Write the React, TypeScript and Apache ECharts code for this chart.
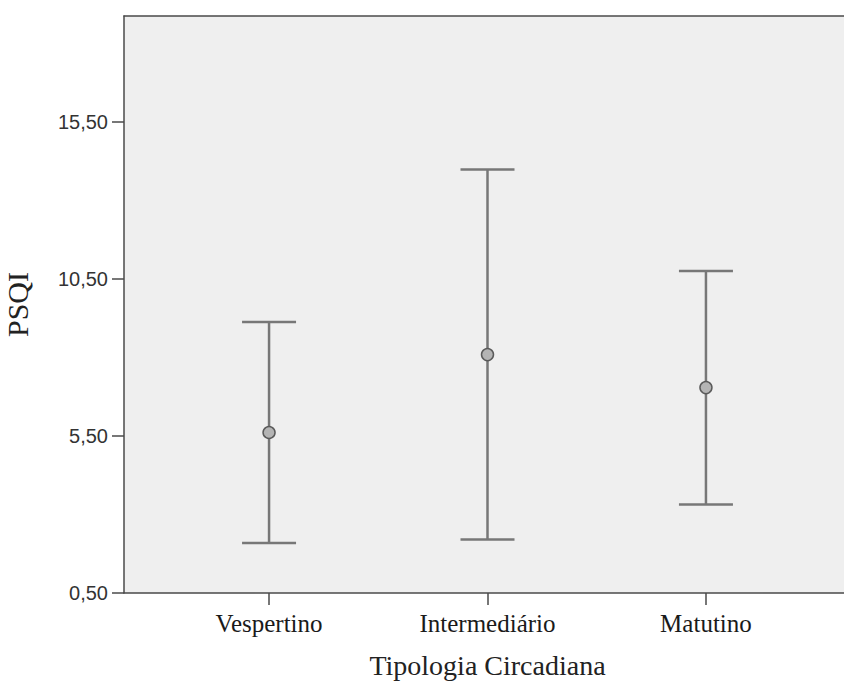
import React, { useEffect, useRef } from "react";
import * as echarts from "echarts";

const categories = ["Vespertino", "Intermediário", "Matutino"];
const means = [5.61, 8.09, 7.04];
const lowers = [2.09, 2.2, 3.32];
const uppers = [9.13, 13.98, 10.75];
const yTicks = [0.5, 5.5, 10.5, 15.5];
const catPositions = [1, 2, 3];

export default function App() {
  const ref = useRef<HTMLDivElement>(null);
  useEffect(() => {
    document.body.style.overflow = "hidden";
    if (!ref.current) return;
    const chart = echarts.init(ref.current, null, { renderer: "svg" });
    const data = categories.map((c, i) => [catPositions[i], lowers[i], uppers[i], means[i]]);
    const axisColor = "#4a4a4a";
    chart.setOption({
      animation: false,
      backgroundColor: "#ffffff",
      grid: {
        left: 124,
        right: 9,
        top: 16,
        bottom: 91,
        containLabel: false,
        outerBoundsMode: "none",
        show: true,
        backgroundColor: "#efefef",
        borderWidth: 0,
      },
      xAxis: [
        {
          type: "value",
          min: 0.336,
          max: 3.664,
          name: "Tipologia Circadiana",
          nameLocation: "middle",
          nameGap: 58,
          nameTextStyle: { fontFamily: "Liberation Serif", fontSize: 28, color: "#222" },
          axisLine: { show: true, lineStyle: { color: axisColor, width: 1.5 } },
          axisTick: { show: true, length: 12, customValues: catPositions, lineStyle: { color: axisColor, width: 1.5 } },
          axisLabel: {
            customValues: catPositions,
            margin: 18,
            fontFamily: "Liberation Serif",
            fontSize: 25,
            color: "#1a1a1a",
            formatter: (v: number) => categories[Math.round(v) - 1] ?? "",
          },
          splitLine: { show: false },
        },
        {
          type: "value",
          position: "top",
          min: 0.336,
          max: 3.664,
          axisLine: { show: true, onZero: false, lineStyle: { color: axisColor, width: 1.5 } },
          axisTick: { show: false },
          axisLabel: { show: false },
          splitLine: { show: false },
        },
      ],
      yAxis: {
        type: "value",
        min: 0.5,
        max: 18.87,
        name: "PSQI",
        nameLocation: "middle",
        nameGap: 92,
        nameRotate: 90,
        nameTextStyle: { fontFamily: "Liberation Serif", fontSize: 30, color: "#222" },
        axisLine: { show: true, lineStyle: { color: axisColor, width: 1.5 } },
        axisTick: { show: true, length: 12, customValues: yTicks, lineStyle: { color: axisColor, width: 1.5 } },
        axisLabel: {
          customValues: yTicks,
          margin: 16,
          fontFamily: "Liberation Sans",
          fontSize: 20,
          color: "#333",
          formatter: (v: number) => v.toFixed(2).replace(".", ","),
        },
        splitLine: { show: false },
      },
      series: [
        {
          type: "custom",
          xAxisIndex: 0,
          data,
          encode: { x: 0, y: [1, 2, 3] },
          renderItem: (params: any, api: any) => {
            const x = api.value(0);
            const lo = api.coord([x, api.value(1)]);
            const hi = api.coord([x, api.value(2)]);
            const mid = api.coord([x, api.value(3)]);
            const half = 27;
            const style = { stroke: "#777", lineWidth: 2.5 };
            return {
              type: "group",
              children: [
                { type: "line", shape: { x1: hi[0], y1: hi[1], x2: lo[0], y2: lo[1] }, style },
                { type: "line", shape: { x1: hi[0] - half, y1: hi[1], x2: hi[0] + half, y2: hi[1] }, style },
                { type: "line", shape: { x1: lo[0] - half, y1: lo[1], x2: lo[0] + half, y2: lo[1] }, style },
                { type: "circle", shape: { cx: mid[0], cy: mid[1], r: 6 }, style: { fill: "#b4b4b4", stroke: "#5a5a5a", lineWidth: 1.5 } },
              ],
            };
          },
        },
      ],
    });
    return () => chart.dispose();
  }, []);
  return <div ref={ref} style={{ position: "fixed", left: 0, top: 0, width: 860, height: 684 }} />;
}
